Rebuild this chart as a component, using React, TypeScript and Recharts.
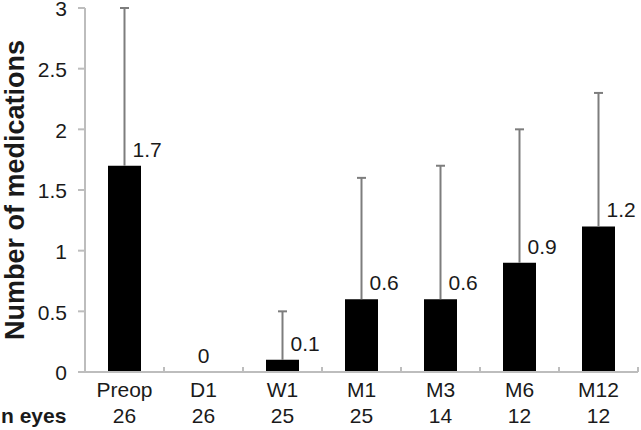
import React from 'react';
import { BarChart, Bar, XAxis, YAxis, LabelList } from 'recharts';

// time points and their values
const categories = ['Preop', 'D1', 'W1', 'M1', 'M3', 'M6', 'M12'];
const nEyes = [26, 26, 25, 25, 14, 12, 12];
const meanMeds = [1.7, 0, 0.1, 0.6, 0.6, 0.9, 1.2];
const upperLimit = [3.0, 0, 0.5, 1.6, 1.7, 2.0, 2.3];
const yTicks = [0, 0.5, 1, 1.5, 2, 2.5, 3];

const W = 641;
const H = 430;
const MARGIN = { top: 8, right: 3, left: 0, bottom: 0 };
const Y_AXIS_W = 85;
const X_AXIS_H = 58;
const FONT = '"Liberation Sans", Arial, sans-serif';
const AXIS_GREY = '#bdbdbd';
const ERR_GREY = '#7d7d7d';
const TEXT = '#1a1a1a';

const bandWidth = (W - MARGIN.left - MARGIN.right - Y_AXIS_W) / categories.length;

const data = categories.map((name, i) => ({
  name,
  n: nEyes[i],
  value: meanMeds[i],
  err: Math.max(0, upperLimit[i] - meanMeds[i]),
}));

// upper error whisker drawn in the stacked segment above the bar
const ErrorWhisker = (props: any) => {
  const { x, y, width, height } = props;
  if (!height || height <= 0) return null;
  const cx = x + width / 2;
  return (
    <g>
      <line x1={cx} y1={y} x2={cx} y2={y + height} stroke={ERR_GREY} strokeWidth={2} />
      <line x1={cx - 4.5} y1={y} x2={cx + 4.5} y2={y} stroke={ERR_GREY} strokeWidth={2} />
    </g>
  );
};

// label sits right of the whisker; looked up by category name
const ValueLabel = (props: any) => {
  const { x, y, width, value } = props;
  const i = categories.indexOf(value);
  if (i < 0 || meanMeds[i] === 0) return null;
  const cx = x + width / 2;
  const hasErr = data[i].err > 0;
  return (
    <text
      x={hasErr ? cx + 8 : cx}
      y={y - 9}
      textAnchor={hasErr ? 'start' : 'middle'}
      fontSize={21}
      fontFamily={FONT}
      fill={TEXT}
    >
      {meanMeds[i]}
    </text>
  );
};

const CategoryTick = (props: any) => {
  const { x, y, payload, index } = props;
  const left = x - bandWidth / 2;
  const right = x + bandWidth / 2;
  return (
    <g>
      {index > 0 && <line x1={left} y1={y} x2={left} y2={y - 5} stroke={AXIS_GREY} strokeWidth={2} />}
      {index === categories.length - 1 && (
        <line x1={right} y1={y} x2={right} y2={y - 5} stroke={AXIS_GREY} strokeWidth={2} />
      )}
      {/* zero-height bars are not drawn, so their value label sits on the axis */}
      {meanMeds[index] === 0 && (
        <text x={x} y={y - 9} textAnchor="middle" fontSize={21} fontFamily={FONT} fill={TEXT}>
          {meanMeds[index]}
        </text>
      )}
      <text x={x} y={y + 25} textAnchor="middle" fontSize={21} fontFamily={FONT} fill={TEXT}>
        {payload.value}
      </text>
      <text x={x} y={y + 51} textAnchor="middle" fontSize={21} fontFamily={FONT} fill={TEXT}>
        {nEyes[index]}
      </text>
      {index === 0 && (
        <text x={1} y={y + 51} textAnchor="start" fontSize={21} fontWeight="bold" fontFamily={FONT} fill={TEXT}>
          n eyes
        </text>
      )}
    </g>
  );
};

const YLabel = (props: any) => {
  const vb = props.viewBox || {};
  const cy = (vb.y ?? MARGIN.top) + (vb.height ?? 364) / 2;
  return (
    <text
      transform={`translate(24, ${cy}) rotate(-90)`}
      textAnchor="middle"
      fontSize={27}
      fontWeight="bold"
      fontFamily={FONT}
      fill={TEXT}
    >
      Number of medications
    </text>
  );
};

export default function App() {
  return (
    <div style={{ position: 'absolute', left: 0, top: 0, width: W, height: H, background: '#fff' }}>
      <BarChart width={W} height={H} data={data} margin={MARGIN} barSize={33}>
        <XAxis
          dataKey="name"
          height={X_AXIS_H}
          interval={0}
          axisLine={{ stroke: AXIS_GREY, strokeWidth: 2 }}
          tickLine={false}
          tickSize={0}
          tickMargin={0}
          tick={<CategoryTick />}
        />
        <YAxis
          width={Y_AXIS_W}
          domain={[0, 3]}
          ticks={yTicks}
          interval={0}
          axisLine={{ stroke: AXIS_GREY, strokeWidth: 2 }}
          tickLine={{ stroke: AXIS_GREY, strokeWidth: 2 }}
          tickSize={7}
          tickMargin={11}
          tick={{ fontSize: 21, fontFamily: FONT, fill: TEXT, dy: 1 }}
          label={YLabel}
        />
        <Bar dataKey="value" stackId="a" fill="#000" isAnimationActive={false}>
          <LabelList dataKey="name" content={ValueLabel} />
        </Bar>
        <Bar dataKey="err" stackId="a" fill="none" shape={ErrorWhisker} isAnimationActive={false} />
      </BarChart>
    </div>
  );
}
